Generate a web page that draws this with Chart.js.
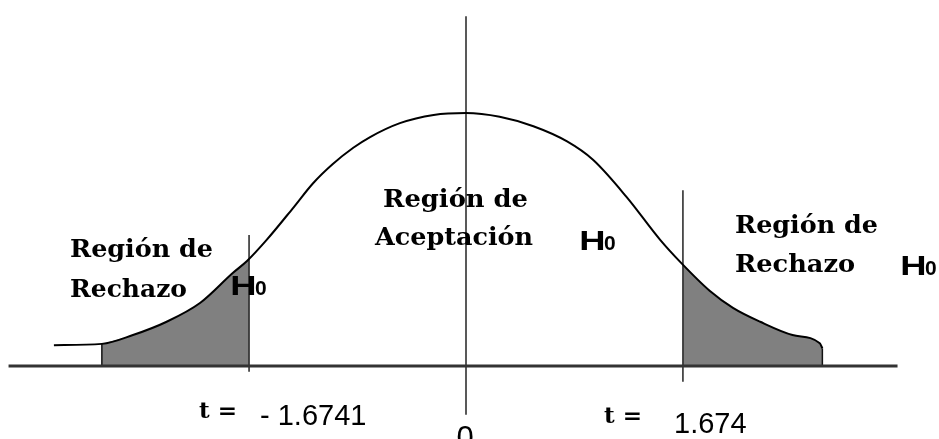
<!DOCTYPE html>
<html lang="es">
<head>
<meta charset="utf-8">
<title>Distribución t - Regiones de rechazo</title>
<script src="https://cdn.jsdelivr.net/npm/chart.js@4.4.1/dist/chart.umd.min.js"></script>
<style>
  html, body { margin: 0; padding: 0; background: #fff; }
  #contenedor { width: 939px; height: 439px; position: relative; }
</style>
</head>
<body>
<div id="contenedor"><canvas id="grafico"></canvas></div>
<script>
//#region Datos
const curvaT = [-3.18, -2.81, -2.57, -2.31, -2.05, -1.80, -1.69, -1.54, -1.33, -1.18, -1.03, -0.87, -0.74, -0.51, -0.25, 0,
  0.26, 0.52, 0.78, 0.98, 1.24, 1.50, 1.66, 1.88, 2.06, 2.27, 2.52, 2.73, 2.75];
const curvaY = [0.033, 0.035, 0.049, 0.070, 0.100, 0.147, 0.166, 0.199, 0.251, 0.289, 0.319, 0.345, 0.362, 0.384, 0.397, 0.400,
  0.394, 0.379, 0.355, 0.326, 0.267, 0.199, 0.163, 0.119, 0.092, 0.070, 0.049, 0.036, 0.028];

const valoresCriticos = [-1.6741, 1.674];
const alturaCritica = [0.169, 0.161];   // altura de la curva en cada valor crítico
const inicioRechazo = -2.81;            // donde empieza el sombreado izquierdo
const finRechazo = 2.75;                // donde termina el sombreado derecho

const ejeT = [-3.53, 3.33];
const lineaCentroY = [-0.077, 0.553];
const lineaCriticaY = [[-0.009, 0.207], [-0.025, 0.278]];

const etiquetasRegion = [['Región de', 'Rechazo'], ['Región de', 'Aceptación'], ['Región de', 'Rechazo']];
const etiquetasT = ['- 1.6741', '1.674'];
const etiquetaCentro = '0';
//#endregion

function puntosEntre(lo, hi) {
  return curvaT.map((t, i) => ({ x: t, y: curvaY[i] })).filter(p => p.x >= lo && p.x <= hi);
}

const curva = curvaT.map((t, i) => ({ x: t, y: curvaY[i] }));
const sombraIzq = [...puntosEntre(inicioRechazo, valoresCriticos[0]), { x: valoresCriticos[0], y: alturaCritica[0] }];
const sombraDer = [{ x: valoresCriticos[1], y: alturaCritica[1] }, ...puntosEntre(valoresCriticos[1], finRechazo)];

function segmento(data, color, ancho) {
  return { data: data, borderColor: color, borderWidth: ancho, pointRadius: 0, tension: 0, fill: false, order: 1 };
}

//#region Textos dibujados sobre el canvas
// escribe un texto forzando el ancho deseado
function textoAncho(ctx, txt, x, y, ancho) {
  const w = ctx.measureText(txt).width;
  ctx.save();
  ctx.translate(x, y);
  ctx.scale(ancho / w, 1);
  ctx.fillText(txt, 0, 0);
  ctx.restore();
}

function dibujarH0(ctx, x, y) {
  ctx.save();
  ctx.font = 'bold 28px "Liberation Sans"';
  ctx.translate(x - 2.7, y);
  ctx.scale(1.3, 1);
  ctx.fillText('H', 0, 0);
  ctx.restore();
  ctx.font = 'bold 21px "Liberation Sans"';
  ctx.fillText('0', x + 22, y);
}

const textos = {
  id: 'textos',
  afterDraw(chart) {
    const ctx = chart.ctx;
    ctx.save();
    ctx.fillStyle = '#000';
    ctx.textBaseline = 'alphabetic';
    ctx.textAlign = 'left';

    ctx.font = 'bold 24px "DejaVu Serif"';
    const lineas = [
      [etiquetasRegion[0][0], 70, 257, 143], [etiquetasRegion[0][1], 70, 297, 117],
      [etiquetasRegion[1][0], 383, 207, 145], [etiquetasRegion[1][1], 375, 245, 158],
      [etiquetasRegion[2][0], 735, 233, 143], [etiquetasRegion[2][1], 735, 272, 120]
    ];
    lineas.forEach(l => textoAncho(ctx, l[0], l[1], l[2], l[3]));

    ctx.font = 'bold 22px "DejaVu Serif"';
    textoAncho(ctx, 't =', 199, 418, 38);
    textoAncho(ctx, 't =', 604, 423, 38);

    dibujarH0(ctx, 233, 295);
    dibujarH0(ctx, 582, 250);
    dibujarH0(ctx, 903, 275);

    ctx.font = '29px "Liberation Sans"';
    ctx.fillText(etiquetasT[0], 260, 425);
    ctx.fillText(etiquetasT[1], 674, 433);
    // el cero queda cortado por el borde inferior, como en la figura
    ctx.textAlign = 'center';
    ctx.font = '31px "Liberation Sans"';
    ctx.fillText(etiquetaCentro, 465, 448);
    ctx.restore();
  }
};
//#endregion

const ctx = document.getElementById('grafico').getContext('2d');

new Chart(ctx, {
  type: 'line',
  data: {
    datasets: [
      { data: curva, borderColor: '#000', borderWidth: 2, pointRadius: 0, cubicInterpolationMode: 'monotone', fill: false, order: 1 },
      segmento(ejeT.map(t => ({ x: t, y: 0 })), '#333', 3),
      segmento(lineaCentroY.map(y => ({ x: 0, y: y })), '#222', 1.5),
      segmento(lineaCriticaY[0].map(y => ({ x: valoresCriticos[0], y: y })), '#222', 1.5),
      segmento(lineaCriticaY[1].map(y => ({ x: valoresCriticos[1], y: y })), '#222', 1.5),
      segmento([{ x: inicioRechazo, y: 0 }, sombraIzq[0]], '#111', 1.5),
      segmento([{ x: finRechazo, y: 0 }, sombraDer[sombraDer.length - 1]], '#111', 1.5),
      { data: sombraIzq, borderWidth: 0, pointRadius: 0, cubicInterpolationMode: 'monotone', fill: 'origin', backgroundColor: '#808080', order: 5 },
      { data: sombraDer, borderWidth: 0, pointRadius: 0, cubicInterpolationMode: 'monotone', fill: 'origin', backgroundColor: '#808080', order: 5 }
    ]
  },
  options: {
    responsive: true,
    maintainAspectRatio: false,
    animation: false,
    layout: { padding: 0 },
    plugins: { legend: { display: false }, tooltip: { enabled: false } },
    scales: {
      x: { type: 'linear', min: -3.596, max: 3.650, display: false },
      y: { type: 'linear', min: -0.1154, max: 0.5787, display: false }
    }
  },
  plugins: [textos]
});
</script>
</body>
</html>
